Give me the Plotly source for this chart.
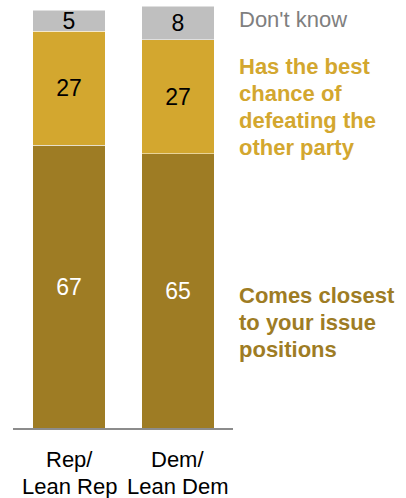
import plotly.graph_objects as go

# Survey answers by party group (percent)
group_labels = [["Rep/", "Lean Rep"], ["Dem/", "Lean Dem"]]
groups = [" ".join(lines) for lines in group_labels]
closest_issues = [67, 65]
best_chance = [27, 27]
dont_know = [5, 8]

# Right-hand series labels, one entry per line
label_dont_know = ["Don't know"]
label_best_chance = ["Has the best", "chance of", "defeating the", "other party"]
label_closest = ["Comes closest", "to your issue", "positions"]

DARK_GOLD = "#9E7C24"
LIGHT_GOLD = "#D3A72F"
GRAY = "#BFBFBF"
TEXT_FONT = "Liberation Sans, Arial, sans-serif"
LINE_STEP = 27

fig = go.Figure()

series = [
    (closest_issues, DARK_GOLD, "white"),
    (best_chance, LIGHT_GOLD, "black"),
    (dont_know, GRAY, "black"),
]
for values, color, txt_color in series:
    fig.add_trace(go.Bar(
        x=groups,
        y=values,
        width=0.665,
        marker=dict(color=color, line=dict(color="white", width=0.5)),
        text=values,
        texttemplate="%{text}",
        textposition="inside",
        insidetextanchor="middle",
        textangle=0,
        textfont=dict(family=TEXT_FONT, size=23, color=txt_color),
        hoverinfo="skip",
    ))

# Series labels to the right of the bars
label_x = 1.019
blocks = [
    (label_dont_know, 0.967, "#7F7F7F", False),
    (label_best_chance, 0.857, LIGHT_GOLD, True),
    (label_closest, 0.314, DARK_GOLD, True),
]
for lines, y0, color, bold in blocks:
    for i, line in enumerate(lines):
        txt = f"<b>{line}</b>" if bold else line
        fig.add_annotation(
            x=label_x, y=y0, xref="paper", yref="paper",
            xanchor="left", yanchor="middle",
            yshift=-i * LINE_STEP,
            text=txt, showarrow=False,
            font=dict(family=TEXT_FONT, size=22, color=color),
        )

# Two-line category labels under each bar
for cat, lines in zip(groups, group_labels):
    for i, line in enumerate(lines):
        fig.add_annotation(
            x=cat, y=-0.0735, xref="x", yref="paper",
            xanchor="center", yanchor="middle",
            yshift=-i * LINE_STEP,
            text=line, showarrow=False,
            font=dict(family=TEXT_FONT, size=22, color="black"),
        )

fig.update_layout(
    barmode="stack",
    width=406, height=498,
    margin=dict(l=13, r=173, t=6, b=70, autoexpand=False),
    paper_bgcolor="white",
    plot_bgcolor="white",
    showlegend=False,
    uniformtext=dict(mode="show", minsize=23),
    xaxis=dict(
        type="category",
        range=[-0.514, 1.505],
        showline=True, linecolor="#8C8C8C", linewidth=2,
        ticks="", showticklabels=False,
        showgrid=False, zeroline=False,
        fixedrange=True,
    ),
    yaxis=dict(
        range=[0, 100],
        visible=False, showgrid=False, zeroline=False,
        fixedrange=True,
    ),
)

fig.write_html("out.html")
